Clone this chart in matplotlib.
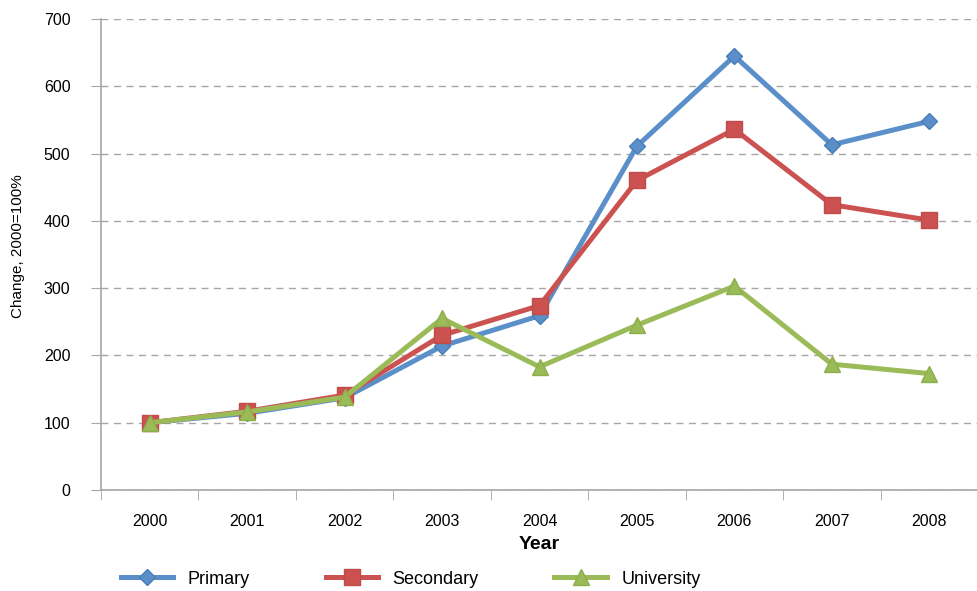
import numpy as np
import matplotlib.pyplot as plt

plt.rcParams['font.family'] = ['Liberation Sans', 'DejaVu Sans']

years = ['2000', '2001', '2002', '2003', '2004', '2005', '2006', '2007', '2008']
primary = [100, 114, 137, 214, 259, 511, 645, 513, 548]
secondary = [100, 117, 141, 230, 274, 460, 536, 424, 401]
university = [100, 116, 138, 255, 183, 245, 303, 187, 173]

x = np.arange(len(years))

fig = plt.figure(figsize=(9.78, 5.91), dpi=100)
ax = fig.add_axes([0.1033, 0.1709, 0.8967, 0.797])

ax.plot(x, primary, color='#5B8FC9', lw=3.6, marker='D', ms=8, mec='#4A7DB8', label='Primary')
ax.plot(x, secondary, color='#CB5250', lw=3.6, marker='s', ms=12, mec='#C04B49', label='Secondary')
ax.plot(x, university, color='#9BBB59', lw=3.6, marker='^', ms=11, mec='#8DAE4C', label='University')

ax.set_xlim(-0.5, 8.45)
ax.set_ylim(0, 700)
ax.set_yticks(range(0, 701, 100))
ax.yaxis.grid(True, ls=(0, (5, 4)), color='#A6A6A6', lw=1)
ax.set_axisbelow(True)

ax.set_xticks(x)
ax.set_xticklabels(years)
ax.set_xticks(np.arange(-0.5, 8.6, 1), minor=True)
ax.tick_params(axis='x', which='major', length=0, pad=17, labelsize=11.5)
ax.tick_params(axis='x', which='minor', length=7, color='#A6A6A6', direction='out')
ax.tick_params(axis='y', length=7, color='#A6A6A6', labelsize=11.5, pad=15)

for s in ['top', 'right']:
    ax.spines[s].set_visible(False)
for s in ['left', 'bottom']:
    ax.spines[s].set_color('#A6A6A6')
    ax.spines[s].set_linewidth(1.2)

ax.set_xlabel('Year', fontsize=14, fontweight='bold', labelpad=5)
ax.set_ylabel('Change, 2000=100%', fontsize=11)
ax.yaxis.set_label_coords(-0.0867, 0.518)

fig.legend(loc='lower left', bbox_to_anchor=(0.107, -0.022), ncol=3, frameon=False,
           fontsize=13, handlelength=2.9, columnspacing=4.2, handletextpad=0.8)

fig.savefig('out.png', dpi=100)
